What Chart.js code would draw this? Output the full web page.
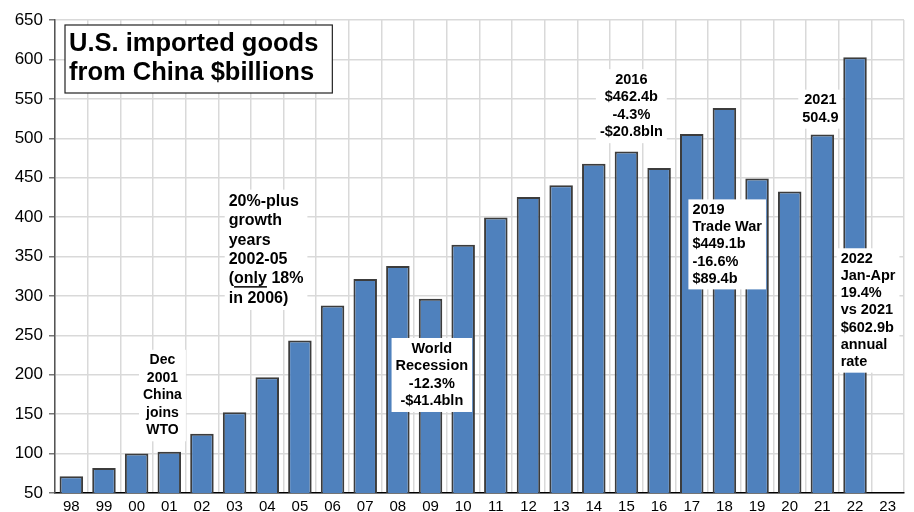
<!DOCTYPE html>
<html>
<head>
<meta charset="utf-8">
<script src="https://cdn.jsdelivr.net/npm/chart.js@4/dist/chart.umd.min.js"></script>
<style>
  body { margin: 0; background: #fff; }
  #wrap { width: 914px; height: 512px; }
</style>
</head>
<body>
<div id="wrap"><canvas id="importsChart"></canvas></div>
<script>
// US imported goods from China, $ billions
const years = ['98', '99', '00', '01', '02', '03', '04', '05', '06', '07', '08', '09', '10',
  '11', '12', '13', '14', '15', '16', '17', '18', '19', '20', '21', '22', '23'];
const imports = [71.2, 81.8, 100.0, 102.3, 125.2, 152.4, 196.7, 243.5, 287.8, 321.4, 337.8, 296.4, 365.0,
  399.4, 425.6, 440.4, 467.7, 483.2, 462.4, 505.5, 538.5, 449.1, 432.5, 504.9, 602.9, null];
const yTicks = [50, 100, 150, 200, 250, 300, 350, 400, 450, 500, 550, 600, 650];

const titleLines = ['U.S. imported goods', 'from China $billions'];

// text notes: at = category position, top = value where first line sits
const notes = [
  { lines: ['Dec', '2001', 'China', 'joins', 'WTO'], at: 2.79, top: 218, align: 'center', size: 14, lh: 17.5 },
  { lines: ['20%-plus', 'growth', 'years', '2002-05', '(only 18%', 'in 2006)'], at: 4.82, top: 420, align: 'left', size: 16, lh: 19.4, underline: 'only' },
  { lines: ['World', 'Recession', '-12.3%', '-$41.4bln'], at: 11.04, top: 233, align: 'center', size: 14.5, lh: 17.5 },
  { lines: ['2016', '$462.4b', '-4.3%', '-$20.8bln'], at: 17.15, top: 574, align: 'center', size: 14.5, lh: 17.5 },
  { lines: ['2019', 'Trade War', '$449.1b', '-16.6%', '$89.4b'], at: 19.02, top: 409, align: 'left', size: 14.5, lh: 17.2 },
  { lines: ['2021', '504.9'], at: 22.94, top: 548, align: 'center', size: 14.5, lh: 17.5 },
  { lines: ['2022', 'Jan-Apr', '19.4%', 'vs 2021', '$602.9b', 'annual', 'rate'], at: 23.56, top: 347, align: 'left', size: 14.5, lh: 17.2 }
];

Chart.defaults.font.family = '"Liberation Sans", Arial, sans-serif';
Chart.defaults.color = '#000';

const notesPlugin = {
  id: 'notes',
  afterDatasetsDraw(chart) {
    const ctx = chart.ctx;
    const x = chart.scales.x, y = chart.scales.y;
    ctx.save();
    notes.forEach(n => {
      ctx.font = 'bold ' + n.size + 'px "Liberation Sans", Arial, sans-serif';
      const w = Math.max(...n.lines.map(l => ctx.measureText(l).width));
      const px = x.getPixelForValue(n.at);
      const py = y.getPixelForValue(n.top);
      const left = n.align === 'center' ? px - w / 2 : px;
      ctx.fillStyle = '#fff';
      ctx.fillRect(left - 4, py - n.lh / 2 - 2, w + 8, n.lh * n.lines.length + 4);
      ctx.fillStyle = '#000';
      ctx.textAlign = n.align;
      ctx.textBaseline = 'middle';
      n.lines.forEach((l, i) => {
        ctx.fillText(l, px, py + i * n.lh);
        if (n.underline && l.indexOf(n.underline) >= 0) {
          const pre = ctx.measureText(l.slice(0, l.indexOf(n.underline))).width;
          const uw = ctx.measureText(n.underline).width;
          ctx.fillRect(left + pre, py + i * n.lh + n.size * 0.45, uw, 1.5);
        }
      });
    });
    ctx.restore();
  },
  afterDraw(chart) {
    const ctx = chart.ctx;
    ctx.save();
    ctx.font = 'bold 25.5px "Liberation Sans", Arial, sans-serif';
    const w = Math.max(...titleLines.map(l => ctx.measureText(l).width));
    ctx.fillStyle = '#fff';
    ctx.fillRect(65, 25, w + 18, 68);
    ctx.strokeStyle = '#222';
    ctx.lineWidth = 1.2;
    ctx.strokeRect(65, 25, w + 18, 68);
    ctx.fillStyle = '#000';
    ctx.textBaseline = 'middle';
    ctx.fillText(titleLines[0], 69, 44);
    ctx.fillText(titleLines[1], 69, 73);
    ctx.restore();
  }
};

new Chart(document.getElementById('importsChart'), {
  type: 'bar',
  data: {
    labels: years,
    datasets: [{
      data: imports,
      backgroundColor: '#4F81BD',
      borderColor: '#3c3c3c',
      borderWidth: 2,
      categoryPercentage: 0.72,
      barPercentage: 1.0
    }]
  },
  options: {
    responsive: true,
    maintainAspectRatio: false,
    animation: false,
    layout: { padding: { top: 20, right: 10, left: 0, bottom: 0 } },
    plugins: { legend: { display: false }, tooltip: { enabled: false } },
    scales: {
      x: {
        grid: { color: '#d9d9d9', lineWidth: 1.5, drawTicks: false },
        border: { color: '#000', width: 1.5 },
        ticks: { font: { size: 15 }, padding: 5, maxRotation: 0, autoSkip: false },
        afterFit(s) { s.height = 19; }
      },
      y: {
        min: 50,
        max: 650,
        afterBuildTicks(s) { s.ticks = yTicks.map(v => ({ value: v })); },
        grid: { color: '#d9d9d9', lineWidth: 1.5, tickLength: 6, tickColor: '#777' },
        border: { color: '#555', width: 1.5 },
        ticks: { font: { size: 17 }, padding: 6 },
        afterFit(s) { s.width = 55; }
      }
    }
  },
  plugins: [notesPlugin]
});
</script>
</body>
</html>
